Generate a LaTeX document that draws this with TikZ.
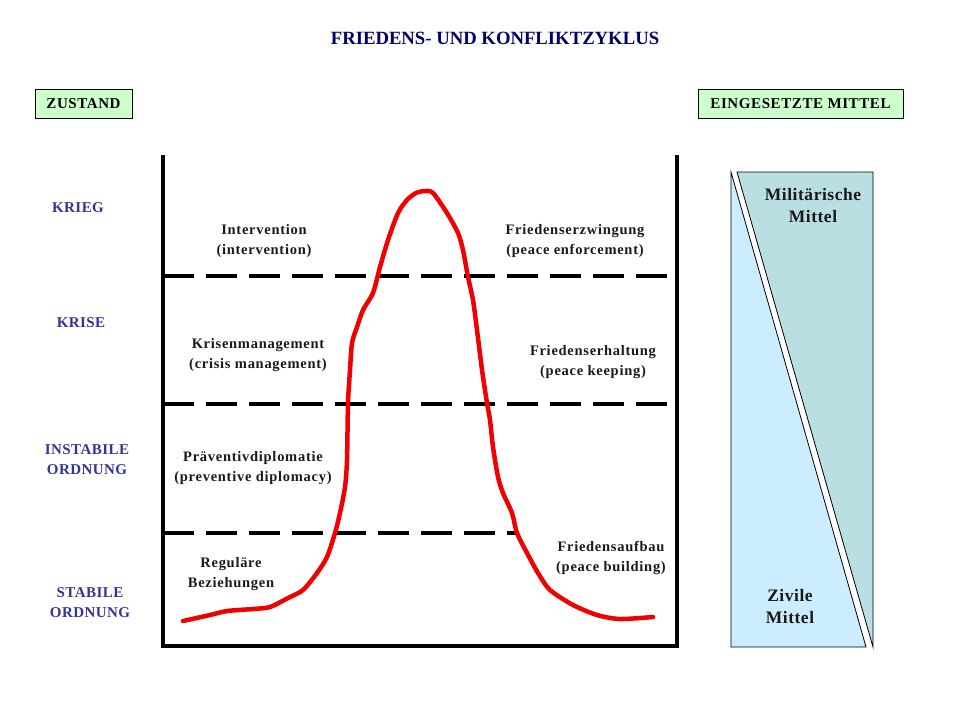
\documentclass[tikz,border=0pt]{standalone}
\usepackage{fontspec}
\setmainfont{Liberation Serif}
\newfontfamily\actfont[LetterSpace=5]{Liberation Serif}
\newfontfamily\statefont[LetterSpace=3]{Liberation Serif}
\newfontfamily\headfont[LetterSpace=4]{Liberation Serif}
\newfontfamily\meansfont[LetterSpace=3]{Liberation Serif}
\definecolor{titleblue}{RGB}{0,0,102}
\definecolor{stateblue}{RGB}{51,51,153}
\definecolor{boxgreen}{RGB}{204,255,204}
\definecolor{milteal}{RGB}{185,223,227}
\definecolor{civblue}{RGB}{204,236,255}
\definecolor{curvered}{RGB}{240,0,0}
\tikzset{
  frameline/.style={line width=3.5pt, line cap=rect},
  levelline/.style={line width=4pt, dash pattern=on 31pt off 12pt},
  headbox/.style={draw=black, line width=0.8pt, fill=boxgreen, font=\headfont\fontsize{15}{17}\selectfont\bfseries, inner sep=0pt, minimum height=29pt},
  statelabel/.style={align=center, text=stateblue, font=\statefont\fontsize{15}{20}\selectfont\bfseries},
  actlabel/.style={align=center, text=black!90, font=\actfont\fontsize{14.5}{20}\selectfont\bfseries},
  meanslabel/.style={align=center, text=black!90, font=\meansfont\fontsize{17.5}{22}\selectfont\bfseries},
}
\begin{document}
\begin{tikzpicture}[x=1pt,y=-1pt]
\useasboundingbox (0,0) rectangle (960,720);
% title
\node[text=titleblue, font=\fontsize{18.7}{20}\selectfont\bfseries] (title) at (495,38) {FRIEDENS- UND KONFLIKTZYKLUS};
% header boxes
\node[headbox, minimum width=97pt] (zustand) at (83.5,103.5) {ZUSTAND};
\node[headbox, minimum width=205pt] (mittel) at (800.5,103.5) {EINGESETZTE MITTEL};
% state labels
\node[statelabel] (krieg) at (78,208) {KRIEG};
\node[statelabel] (krise) at (81,323) {KRISE};
\node[statelabel] (instabil) at (87,460) {INSTABILE\\ORDNUNG};
\node[statelabel] (stabil) at (90,603) {STABILE\\ORDNUNG};
% frame
\coordinate (ftl) at (163,157);
\coordinate (fbl) at (163,646);
\coordinate (fbr) at (677,646);
\coordinate (ftr) at (677,157);
\draw[frameline] (ftl) -- (fbl) -- (fbr) -- (ftr);
% level lines
\coordinate (l1a) at (163,276); \coordinate (l1b) at (677,276);
\coordinate (l2a) at (163,404); \coordinate (l2b) at (677,404);
\coordinate (l3a) at (163,533); \coordinate (l3b) at (518,533);
\draw[levelline] (l1a) -- (l1b);
\draw[levelline] (l2a) -- (l2b);
\draw[levelline] (l3a) -- (l3b);
% activity labels
\node[actlabel] (interv) at (264,241) {Intervention\\(intervention)};
\node[actlabel] (enforce) at (575,241) {Friedenserzwingung\\(peace enforcement)};
\node[actlabel] (crisis) at (258,355) {Krisenmanagement\\(crisis management)};
\node[actlabel] (keep) at (593,362) {Friedenserhaltung\\(peace keeping)};
\node[actlabel] (prevent) at (253,468) {Präventivdiplomatie\\(preventive diplomacy)};
\node[actlabel] (regular) at (231,574) {Reguläre\\Beziehungen};
\node[actlabel] (build) at (611,558) {Friedensaufbau\\(peace building)};
% curve
\draw[curvered, line width=4.5pt, line cap=round, line join=round] plot[smooth, tension=0.45] coordinates {
(183,621) (210,615) (227,611) (253,609) (270,607) (288,598) (303,590) (317,573) (327,557) (335,533) (340,513) (345,487) (347,460) (348,403) (350,370) (352,343) (357,327) (363,310) (373,293) (380,267) (388,240) (398,213) (407,200) (416,193) (425,191) (433,193) (447,213) (458,233) (463,250) (468,277) (473,300) (477,330) (482,370) (487,403) (490,420) (493,447) (498,477) (503,493) (512,513) (517,533) (527,553) (538,573) (550,590) (573,605) (597,615) (620,619) (653,617)};
% means panel
\coordinate (ma) at (731,172);
\coordinate (mb) at (731,647);
\coordinate (mc) at (866,647);
\coordinate (md) at (737,172);
\coordinate (me) at (873,172);
\coordinate (mf) at (873,647);
\draw[fill=civblue, line width=0.8pt] (ma) -- (mc) -- (mb) -- cycle;
\draw[fill=milteal, line width=0.8pt] (md) -- (me) -- (mf) -- cycle;
\node[meanslabel] (milit) at (813,206) {Militärische\\Mittel};
\node[meanslabel] (civil) at (790,607) {Zivile\\Mittel};
\end{tikzpicture}
\end{document}
